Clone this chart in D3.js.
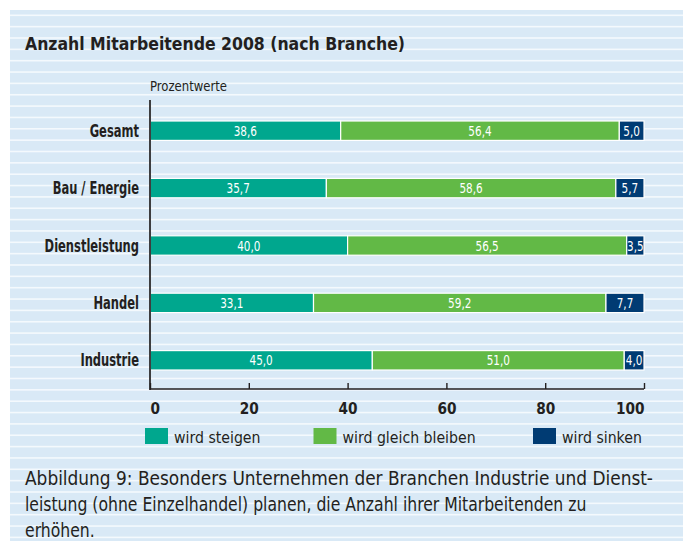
<!DOCTYPE html>
<html lang="de">
<head>
<meta charset="UTF-8">
<title>Anzahl Mitarbeitende 2008</title>
<script src="https://d3js.org/d3.v7.min.js"></script>
<style>
  body { margin: 0; background: #fff; }
  svg { display: block; }
  text { font-family: "Liberation Sans Narrow", "DejaVu Sans Condensed", "Roboto Condensed", sans-serif; fill: #231f20; }
</style>
</head>
<body>
<svg id="chart" width="683" height="541"></svg>
<script>
// data
const branchen = ["Gesamt", "Bau / Energie", "Dienstleistung", "Handel", "Industrie"];
const steigen = [38.6, 35.7, 40.0, 33.1, 45.0];
const gleich  = [56.4, 58.6, 56.5, 59.2, 51.0];
const sinken  = [5.0, 5.7, 3.5, 7.7, 4.0];
const serien = ["wird steigen", "wird gleich bleiben", "wird sinken"];
const farben = ["#00a78e", "#62b946", "#003b73"];
const ticks = [0, 20, 40, 60, 80, 100];

const titel = "Anzahl Mitarbeitende 2008 (nach Branche)";
const caption = [
  "Abbildung 9: Besonders Unternehmen der Branchen Industrie und Dienst-",
  "leistung (ohne Einzelhandel) planen, die Anzahl ihrer Mitarbeitenden zu",
  "erhöhen."
];

const W = 683, H = 541;
const svg = d3.select("#chart");

// background panel with horizontal stripes
svg.append("rect").attr("x", 10).attr("y", 10).attr("width", W - 10).attr("height", H - 10)
  .attr("fill", "#d9e9f6");
const stripes = d3.range(15.5, H, 11.35);
svg.append("g").selectAll("rect").data(stripes).enter().append("rect")
  .attr("x", 10).attr("y", d => d - 1).attr("width", W - 10).attr("height", 1.6)
  .attr("fill", "#f4f9fd");

// the original uses a condensed face: squeeze glyphs horizontally
function fit(sel, w) {
  sel.attr("textLength", w).attr("lengthAdjust", "spacingAndGlyphs");
}
function squeeze(sel, f) {
  sel.each(function () {
    const len = this.getComputedTextLength();
    if (len > 0) d3.select(this).attr("textLength", len * f).attr("lengthAdjust", "spacingAndGlyphs");
  });
}

// title
svg.append("text").attr("x", 25).attr("y", 50)
  .attr("font-size", 18.5).attr("font-weight", "bold").text(titel)
  .call(fit, 380);

svg.append("text").attr("x", 150).attr("y", 90.5)
  .attr("font-size", 13.5).text("Prozentwerte")
  .call(fit, 77);

const x = d3.scaleLinear().domain([0, 100]).range([150, 644]);
const y = d3.scaleBand().domain(branchen).range([102, 389]).paddingInner(0.662).paddingOuter(0.331);

// stacked data
const rows = branchen.map((b, i) => ({ b, vals: [steigen[i], gleich[i], sinken[i]] }));
const stack = d3.stack().keys([0, 1, 2]).value((d, k) => d.vals[k]);
const layers = stack(rows);

const g = svg.append("g");
layers.forEach((layer, k) => {
  const lg = g.append("g");
  lg.selectAll("rect").data(layer).enter().append("rect")
    .attr("x", d => x(d[0]))
    .attr("y", d => y(d.data.b))
    .attr("width", d => x(d[1]) - x(d[0]))
    .attr("height", y.bandwidth())
    .attr("fill", farben[k])
    .attr("stroke", "#ffffff").attr("stroke-width", 1.2);
  lg.selectAll("text").data(layer).enter().append("text")
    .attr("x", d => (x(d[0]) + x(d[1])) / 2)
    .attr("y", d => y(d.data.b) + y.bandwidth() / 2 + 5)
    .attr("text-anchor", "middle")
    .attr("font-size", 13.5)
    .style("fill", "#fff")
    .text(d => d3.format(".1f")(d[1] - d[0]).replace(".", ","))
    .call(squeeze, 0.86);
});

// category labels
svg.append("g").selectAll("text").data(branchen).enter().append("text")
  .attr("x", 139).attr("y", d => y(d) + y.bandwidth() / 2 + 6)
  .attr("text-anchor", "end").attr("font-size", 17.5).attr("font-weight", "bold")
  .text(d => d)
  .call(squeeze, 0.73);

// axes
svg.append("line").attr("x1", 150).attr("x2", 150).attr("y1", 100).attr("y2", 390)
  .attr("stroke", "#3d3d3f").attr("stroke-width", 2);
const xAxis = d3.axisBottom(x).tickValues(ticks).tickSize(-6).tickPadding(14)
  .tickFormat(d3.format("d"));
const ax = svg.append("g").attr("transform", "translate(0,389)").call(xAxis);
ax.select(".domain").attr("stroke", "#231f20").attr("stroke-width", 1.4).attr("d", "M150,0H644");
ax.selectAll(".tick line").attr("stroke", "#231f20").attr("stroke-width", 1.4);
ax.selectAll(".tick text").attr("font-size", 16).attr("font-weight", "bold")
  .attr("font-family", null).style("fill", "#231f20")
  .attr("text-anchor", d => d === 0 ? "start" : d === 100 ? "end" : "middle")
  .call(squeeze, 0.95);

// legend
const legX = [145, 313.5, 533];
const leg = svg.append("g").selectAll("g").data(serien).enter().append("g")
  .attr("transform", (d, i) => `translate(${legX[i]},428)`);
leg.append("rect").attr("width", 23).attr("height", 16).attr("fill", (d, i) => farben[i]);
leg.append("text").attr("x", 29).attr("y", 14.5).attr("font-size", 16.5).text(d => d)
  .call(squeeze, 0.95);

// caption
const cap = svg.append("g").selectAll("text").data(caption).enter().append("text")
  .attr("x", 25).attr("y", (d, i) => 484.5 + i * 26)
  .attr("font-size", 19).text(d => d);
cap.filter((d, i) => i === 0).call(fit, 628);
cap.filter((d, i) => i > 0).call(squeeze, 0.915);
</script>
</body>
</html>
